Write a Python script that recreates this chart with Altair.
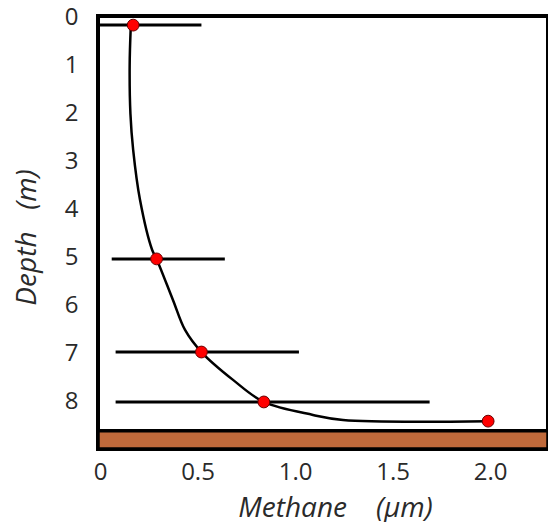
import altair as alt
import pandas as pd

# measured points (methane, depth)
pt_methane = [0.17, 0.29, 0.52, 0.84, 1.99]
pt_depth = [0.15, 5.02, 6.96, 8.0, 8.4]

# error bars (horizontal)
err_depth = [0.15, 5.02, 6.96, 8.0]
err_low = [0.0, 0.06, 0.08, 0.08]
err_high = [0.52, 0.64, 1.02, 1.69]

# fitted profile curve
curve_methane = [0.158, 0.152, 0.156, 0.17, 0.205, 0.267, 0.29, 0.374, 0.436, 0.52, 0.682, 0.84, 1.092, 1.246, 1.99]
curve_depth = [0.15, 1.0, 2.0, 2.75, 3.79, 4.83, 5.02, 5.875, 6.5, 6.96, 7.54, 8.0, 8.27, 8.375, 8.4]

# sediment layer
sed_top = [8.6]
sed_bottom = [8.98]

x_domain = [-0.0103, 2.297]
y_domain = [-0.04, 8.98]
x_ticks = [0, 0.5, 1.0, 1.5, 2.0]
y_ticks = [0, 1, 2, 3, 4, 5, 6, 7, 8]

pts = pd.DataFrame({"m": pt_methane, "d": pt_depth})
errs = pd.DataFrame({"d": err_depth, "lo": err_low, "hi": err_high})
curve = pd.DataFrame({"m": curve_methane, "d": curve_depth, "o": list(range(len(curve_depth)))})
sed = pd.DataFrame({"x1": [x_domain[0]], "x2": [x_domain[1]], "top": sed_top, "bot": sed_bottom})

FONT = "Open Sans"
TXT = "#2a2a2a"
NB = "\u00a0"

xscale = alt.Scale(domain=x_domain, nice=False, zero=False)
yscale = alt.Scale(domain=y_domain, nice=False, zero=False, reverse=True)

xaxis = alt.Axis(values=x_ticks, labelExpr="datum.value == 0 ? '0' : format(datum.value, '.1f')",
                 title="Methane" + NB * 4 + "(\u00b5m)", grid=False, ticks=False, domain=False,
                 labelPadding=11, labelFontSize=24, titleFontSize=28,
                 titleX=237, titleY=67, titleBaseline="alphabetic", titleAlign="center",
                 labelFont=FONT, titleFont=FONT, titleFontStyle="italic", titleFontWeight="normal",
                 labelColor=TXT, titleColor=TXT)
yaxis = alt.Axis(values=y_ticks, format="d", title="Depth" + NB * 3 + "(m)", grid=False, ticks=False, domain=False,
                 labelPadding=20, labelFontSize=24, titleFontSize=28,
                 titleX=-63, titleY=221, titleAngle=-90, titleBaseline="alphabetic", titleAlign="center",
                 labelFont=FONT, titleFont=FONT, titleFontStyle="italic", titleFontWeight="normal",
                 labelColor=TXT, titleColor=TXT)

err_layer = alt.Chart(errs).mark_rule(color="black", strokeWidth=3).encode(
    x=alt.X("lo:Q", scale=xscale, axis=xaxis),
    x2="hi:Q",
    y=alt.Y("d:Q", scale=yscale, axis=yaxis),
)

curve_layer = alt.Chart(curve).mark_line(color="black", strokeWidth=2.5, interpolate="catmull-rom").encode(
    x=alt.X("m:Q", scale=xscale),
    y=alt.Y("d:Q", scale=yscale),
    order="o:Q",
)

pt_layer = alt.Chart(pts).mark_point(filled=True, shape="circle", size=140, fill="#ff0000",
                                      stroke="#6a0000", strokeWidth=1, opacity=1).encode(
    x=alt.X("m:Q", scale=xscale),
    y=alt.Y("d:Q", scale=yscale),
)

sed_layer = alt.Chart(sed).mark_rect(fill="#c06a3b", stroke="black", strokeWidth=3.5).encode(
    x=alt.X("x1:Q", scale=xscale),
    x2="x2:Q",
    y=alt.Y("top:Q", scale=yscale),
    y2="bot:Q",
)

chart = alt.layer(err_layer, curve_layer, pt_layer, sed_layer).properties(
    width=450, height=433,
    autosize=alt.AutoSizeParams(type="none"),
    padding={"left": 90, "top": 8, "right": 0, "bottom": 73},
).configure_view(stroke="black", strokeWidth=4)

chart.save("out.html", embed_options={"renderer": "svg", "actions": False})
